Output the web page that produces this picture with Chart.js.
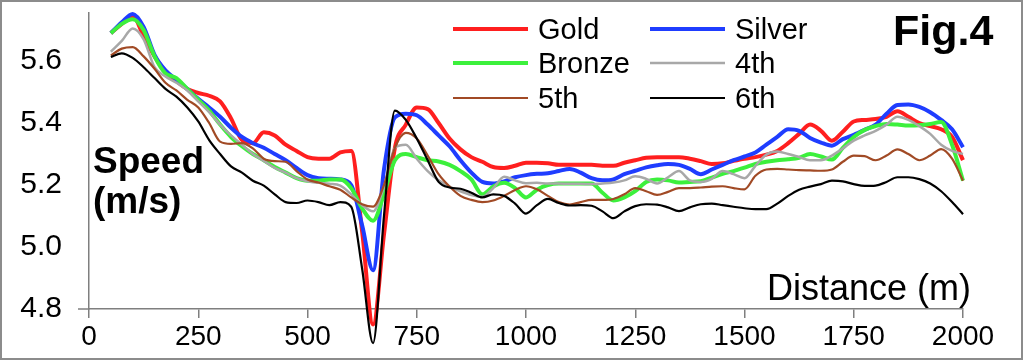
<!DOCTYPE html>
<html>
<head>
<meta charset="utf-8">
<title>Fig.4 Speed vs Distance</title>
<script src="https://cdn.jsdelivr.net/npm/chart.js@4/dist/chart.umd.min.js"></script>
<style>
  html, body { margin: 0; padding: 0; background: #fff; }
  #wrap { width: 1024px; height: 362px; }
</style>
</head>
<body>
<div id="wrap"><canvas id="chart" width="1024" height="362"></canvas></div>
<script>
// distance along the course (m)
const distances = [50, 75, 100, 125, 150, 175, 200, 225, 250, 275, 300, 325, 350, 375, 400, 425, 450, 475, 500, 525, 550, 575, 600,
  625, 650, 675, 700, 725, 750, 775, 800, 825, 850, 875, 900, 925, 950, 975, 1000,
  1025, 1050, 1075, 1100, 1125, 1150, 1175, 1200, 1225, 1250, 1275, 1300, 1325, 1350, 1375, 1400, 1425, 1450, 1475, 1500,
  1525, 1550, 1575, 1600, 1625, 1650, 1675, 1700, 1725, 1750, 1775, 1800, 1825, 1850, 1875, 1900, 1925, 1950, 1975, 2000];

// speed (m/s) per finishing place
const gold = [5.69, 5.72, 5.745, 5.68, 5.615, 5.565, 5.535, 5.51, 5.497, 5.488, 5.47, 5.415, 5.345, 5.335, 5.37, 5.36, 5.33, 5.31, 5.29, 5.285, 5.285, 5.305, 5.31,
  5.05, 4.75, 5.04, 5.32, 5.395, 5.45, 5.445, 5.40, 5.35, 5.315, 5.29, 5.275, 5.258, 5.255, 5.262, 5.272,
  5.272, 5.27, 5.265, 5.265, 5.265, 5.265, 5.262, 5.262, 5.272, 5.28, 5.288, 5.29, 5.29, 5.29, 5.285, 5.277, 5.268, 5.27, 5.278, 5.285,
  5.29, 5.298, 5.31, 5.335, 5.365, 5.395, 5.375, 5.343, 5.372, 5.405, 5.41, 5.413, 5.42, 5.438, 5.42, 5.40, 5.39, 5.38, 5.355, 5.28];

const silver = [5.69, 5.725, 5.752, 5.71, 5.62, 5.57, 5.54, 5.51, 5.478, 5.45, 5.42, 5.385, 5.355, 5.335, 5.32, 5.30, 5.28, 5.255, 5.232, 5.222, 5.22, 5.218, 5.20,
  5.07, 4.925, 5.25, 5.418, 5.43, 5.425, 5.395, 5.36, 5.325, 5.28, 5.24, 5.21, 5.205, 5.212, 5.225, 5.232,
  5.236, 5.238, 5.245, 5.252, 5.24, 5.222, 5.215, 5.218, 5.235, 5.246, 5.257, 5.264, 5.268, 5.265, 5.252, 5.235, 5.25, 5.265, 5.28, 5.292,
  5.305, 5.33, 5.355, 5.38, 5.375, 5.352, 5.337, 5.327, 5.348, 5.362, 5.378, 5.395, 5.43, 5.458, 5.46, 5.452, 5.435, 5.41, 5.38, 5.322];

const bronze = [5.69, 5.72, 5.735, 5.70, 5.615, 5.56, 5.545, 5.51, 5.475, 5.44, 5.395, 5.355, 5.325, 5.30, 5.28, 5.258, 5.24, 5.222, 5.214, 5.214, 5.218, 5.218, 5.19,
  5.125, 5.085, 5.17, 5.28, 5.30, 5.29, 5.28, 5.276, 5.265, 5.245, 5.218, 5.17, 5.195, 5.207, 5.19, 5.16,
  5.185, 5.20, 5.205, 5.205, 5.205, 5.205, 5.175, 5.15, 5.16, 5.18, 5.21, 5.218, 5.215, 5.208, 5.21, 5.212, 5.224, 5.236, 5.245, 5.256,
  5.268, 5.275, 5.28, 5.283, 5.288, 5.30, 5.292, 5.282, 5.32, 5.355, 5.378, 5.39, 5.397, 5.395, 5.392, 5.393, 5.397, 5.403, 5.33, 5.214];

const fourth = [5.63, 5.665, 5.705, 5.67, 5.58, 5.55, 5.53, 5.505, 5.47, 5.435, 5.395, 5.36, 5.33, 5.30, 5.278, 5.255, 5.24, 5.222, 5.212, 5.207, 5.204, 5.198, 5.17,
  5.135, 5.115, 5.195, 5.32, 5.33, 5.285, 5.245, 5.215, 5.195, 5.18, 5.168, 5.162, 5.19, 5.227, 5.215, 5.206,
  5.207, 5.205, 5.205, 5.204, 5.204, 5.203, 5.205, 5.208, 5.215, 5.228, 5.22, 5.205, 5.225, 5.245, 5.215, 5.21, 5.22, 5.245, 5.235, 5.222,
  5.262, 5.298, 5.308, 5.30, 5.29, 5.28, 5.28, 5.295, 5.318, 5.343, 5.36, 5.375, 5.395, 5.42, 5.41, 5.39, 5.365, 5.33, 5.31, 5.30];

const fifth = [5.618, 5.64, 5.645, 5.615, 5.575, 5.53, 5.505, 5.475, 5.45, 5.40, 5.34, 5.333, 5.335, 5.318, 5.285, 5.277, 5.275, 5.245, 5.218, 5.208, 5.196, 5.185, 5.16,
  5.138, 5.13, 5.20, 5.32, 5.368, 5.35, 5.295, 5.235, 5.195, 5.165, 5.152, 5.145, 5.15, 5.165, 5.184, 5.196,
  5.186, 5.165, 5.145, 5.137, 5.145, 5.152, 5.152, 5.155, 5.17, 5.19, 5.18, 5.168, 5.178, 5.19, 5.19, 5.192, 5.195, 5.196, 5.19, 5.186,
  5.23, 5.25, 5.252, 5.25, 5.248, 5.247, 5.246, 5.25, 5.275, 5.295, 5.293, 5.28, 5.295, 5.315, 5.30, 5.28, 5.295, 5.316, 5.285, 5.214];

const sixth = [5.613, 5.625, 5.61, 5.58, 5.545, 5.51, 5.485, 5.45, 5.405, 5.345, 5.30, 5.26, 5.24, 5.214, 5.198, 5.17, 5.145, 5.142, 5.15, 5.145, 5.135, 5.145, 5.13,
  4.93, 4.69, 5.10, 5.44, 5.41, 5.35, 5.28, 5.21, 5.192, 5.188, 5.175, 5.16, 5.17, 5.165, 5.14, 5.108,
  5.135, 5.155, 5.142, 5.134, 5.135, 5.133, 5.115, 5.093, 5.115, 5.132, 5.138, 5.137, 5.128, 5.116, 5.128, 5.138, 5.14, 5.135, 5.13, 5.125,
  5.122, 5.122, 5.14, 5.165, 5.185, 5.195, 5.203, 5.214, 5.212, 5.203, 5.197, 5.198, 5.21, 5.225, 5.225, 5.219, 5.205, 5.18, 5.145, 5.106];

const seriesNames = ["Gold", "Silver", "Bronze", "4th", "5th", "6th"];
const seriesValues = [gold, silver, bronze, fourth, fifth, sixth];

const xTicks = [0, 250, 500, 750, 1000, 1250, 1500, 1750, 2000];
const yTicks = [4.8, 5.0, 5.2, 5.4, 5.6];

const FONT = '"Liberation Sans", Arial, Helvetica, sans-serif';
const AXIS_GREY = "#7f7f7f";

// colour and line width for each series, same order as seriesNames
const STYLE = [
  ["#ff1f1f", 4],
  ["#1f3dff", 4],
  ["#3cf03c", 4],
  ["#a8a8a8", 2.5],
  ["#a14a25", 2.2],
  ["#000000", 2.2]
];

// Builds one line dataset per place
function buildDatasets() {
  return seriesNames.map((name, i) => ({
    label: name,
    data: seriesValues[i].map((v, j) => ({x: distances[j], y: v})),
    borderColor: STYLE[i][0],
    backgroundColor: STYLE[i][0],
    borderWidth: STYLE[i][1],
    pointRadius: 0,
    fill: false,
    cubicInterpolationMode: "monotone",
    clip: false,
    order: seriesNames.length - i   // later places drawn on top, like the original
  }));
}

// Frame, two-column legend and the free text labels
const decorations = {
  id: "decorations",
  afterDraw(chart) {
    const ctx = chart.ctx;
    const area = chart.chartArea;
    ctx.save();

    ctx.strokeStyle = "#8c8c8c";
    ctx.lineWidth = 2;
    ctx.strokeRect(1, 1, 1021, 358);

    // x axis line runs a little past the y axis
    ctx.strokeStyle = AXIS_GREY;
    ctx.lineWidth = 1.5;
    ctx.beginPath();
    ctx.moveTo(area.left - 11, area.bottom);
    ctx.lineTo(area.left, area.bottom);
    ctx.stroke();

    // legend
    const colX = [453, 650];
    const rowY = [29, 63, 98];
    ctx.font = "29px " + FONT;
    ctx.fillStyle = "#000";
    ctx.textBaseline = "alphabetic";
    ctx.textAlign = "left";
    chart.data.datasets.forEach((ds, i) => {
      let x = colX[i % 2];
      let y = rowY[Math.floor(i / 2)];
      ctx.strokeStyle = ds.borderColor;
      ctx.lineWidth = ds.borderWidth;
      ctx.beginPath();
      ctx.moveTo(x, y);
      ctx.lineTo(x + 75, y);
      ctx.stroke();
      ctx.fillText(ds.label, x + 85, y + 10);
    });

    ctx.font = "bold 43px " + FONT;
    ctx.fillText("Fig.4", 893, 45);

    ctx.font = "bold 37px " + FONT;
    ctx.fillText("Speed", 93, 173);
    ctx.fillText("(m/s)", 93, 213);

    ctx.font = "36px " + FONT;
    ctx.fillText("Distance (m)", 767, 300);

    ctx.restore();
  }
};

function onLoad() {
  new Chart(document.getElementById("chart"), {
    type: "line",
    data: {datasets: buildDatasets()},
    options: {
      responsive: false,
      animation: false,
      devicePixelRatio: 1,
      layout: {padding: {top: 13, right: 61, bottom: 0, left: 0}},
      plugins: {
        legend: {display: false},
        tooltip: {enabled: false}
      },
      scales: {
        x: {
          type: "linear",
          min: 0,
          max: 2000,
          afterBuildTicks: scale => { scale.ticks = xTicks.map(v => ({value: v})); },
          afterFit: scale => { scale.height = 53; },
          ticks: {
            color: "#000",
            font: {family: FONT, size: 28},
            padding: 2,
            maxRotation: 0,
            autoSkip: false,
            callback: v => String(v)
          },
          grid: {drawOnChartArea: false, drawTicks: true, tickLength: 9, color: AXIS_GREY, lineWidth: 1.5},
          border: {color: AXIS_GREY, width: 1.5}
        },
        y: {
          type: "linear",
          min: 4.8,
          max: 5.755,
          afterBuildTicks: scale => { scale.ticks = yTicks.map(v => ({value: v})); },
          afterFit: scale => {
            // the top tick is below the axis end, so no label overhang is needed
            scale.width = 89;
            scale.paddingTop = 0;
            scale.paddingBottom = 0;
          },
          ticks: {
            color: "#000",
            font: {family: FONT, size: 30},
            padding: 27,
            callback: v => v.toFixed(1)
          },
          grid: {display: false, drawTicks: false},
          border: {color: AXIS_GREY, width: 1.5}
        }
      }
    },
    plugins: [decorations]
  });
}

onLoad();
</script>
</body>
</html>
